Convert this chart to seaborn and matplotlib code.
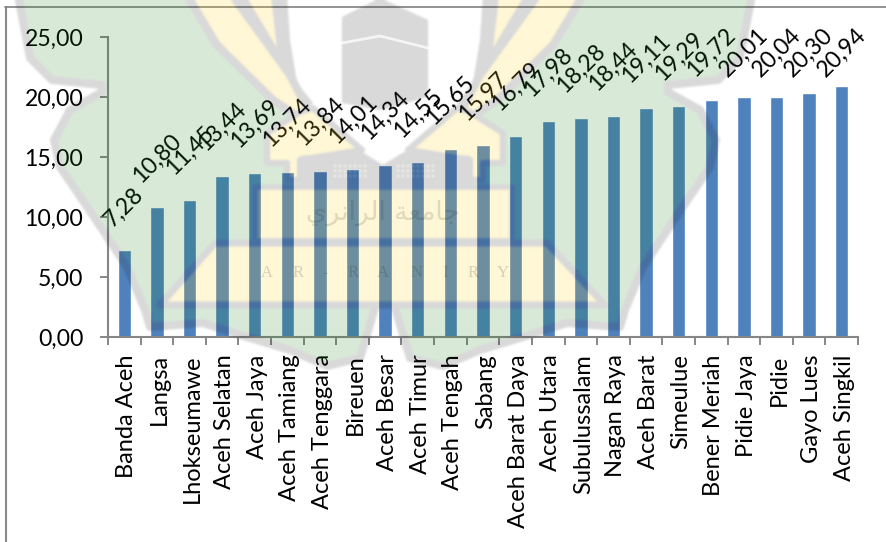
import numpy as np
import pandas as pd
import matplotlib
matplotlib.use("Agg")
import matplotlib.pyplot as plt
from matplotlib.backends.backend_agg import FigureCanvasAgg
from matplotlib.figure import Figure
from matplotlib.patches import Polygon
from matplotlib.transforms import ScaledTranslation
import seaborn as sns

# Poverty-style percentages per district, ascending
districts = ["Banda Aceh", "Langsa", "Lhokseumawe", "Aceh Selatan", "Aceh Jaya",
             "Aceh Tamiang", "Aceh Tenggara", "Bireuen", "Aceh Besar", "Aceh Timur",
             "Aceh Tengah", "Sabang", "Aceh Barat Daya", "Aceh Utara", "Subulussalam",
             "Nagan Raya", "Aceh Barat", "Simeulue", "Bener Meriah", "Pidie Jaya",
             "Pidie", "Gayo Lues", "Aceh Singkil"]
values = [7.28, 10.80, 11.45, 13.44, 13.69, 13.74, 13.84, 14.01, 14.34, 14.55,
          15.65, 15.97, 16.79, 17.98, 18.28, 18.44, 19.11, 19.29, 19.72, 20.01,
          20.04, 20.30, 20.94]
y_ticks = [0, 5, 10, 15, 20, 25]

W, H, DPI = 886, 542, 100
FONT = "Lato"
BAR = "#4F81BD"
AXIS = "#868686"

sns.set_theme(style="white")
plt.rcParams["font.family"] = [FONT, "DejaVu Sans"]


def comma(v):
    return f"{v:.2f}".replace(".", ",")


def soften(rgba):
    """Small binomial blur on premultiplied RGBA so the emblem's edges stay soft."""
    premult = np.pad(rgba, ((2, 2), (2, 2), (0, 0)), mode="edge")
    premult[..., :3] *= premult[..., 3:]
    for axis in (0, 1):
        premult = sum(w * np.roll(premult, s, axis=axis)
                      for s, w in zip(range(-2, 3), (1 / 16, 4 / 16, 6 / 16, 4 / 16, 1 / 16)))
    premult = premult[2:-2, 2:-2]
    alpha = np.maximum(premult[..., 3:], 1e-6)
    premult[..., :3] = np.clip(premult[..., :3] / alpha, 0, 1)
    return premult


def build_emblem():
    """Paint the university emblem opaquely on a transparent canvas (pixel coordinates)."""
    green, gold, grey = "#188218", "#FFD008", "#1F1F1F"
    stroke = 5.8
    fig = Figure(figsize=(W / DPI, H / DPI), dpi=DPI)
    fig.patch.set_alpha(0)
    canvas = FigureCanvasAgg(fig)
    ax = fig.add_axes([0, 0, 1, 1])
    ax.set_xlim(0, W)
    ax.set_ylim(H, 0)
    ax.axis("off")

    def shape(pts, face, lw=stroke, mirror=True):
        sets = [pts] + ([[(770 - x, y) for x, y in pts]] if mirror else [])
        for p in sets:
            ax.add_patch(Polygon(p, closed=True, facecolor=face,
                                 edgecolor=grey if lw else face, linewidth=lw or 0.1,
                                 joinstyle="round"))

    # wings
    shape([(18, -5), (30, 58), (52, 80), (102, 85), (102, 92), (70, 110), (54, 140),
           (60, 167), (94, 217), (127, 267), (145, 310), (150, 327), (203, 323),
           (247, 337), (290, 350), (327, 366), (360, 358), (375, 308), (375, 240),
           (300, 118), (273, 100), (217, 45), (187, -5)], green)
    # dark wedge between the ribbons and the shield
    shape([(232, -5), (287, -5), (290, 40), (297, 83), (313, 103), (307, 108), (290, 75)],
          grey, lw=0)
    # ribbons
    shape([(187, -5), (232, -5), (290, 75), (307, 108), (300, 118), (273, 100), (217, 45)], gold)
    shape([(243, -5), (273, -5), (280, 57)], gold, lw=3)
    # base blocks either side of the shield
    shape([(267, 147), (267, 133), (300, 112), (313, 108), (362, 150), (300, 160),
           (300, 180), (287, 180), (287, 163), (267, 163)], gold, lw=4.5)
    # central panel under the chevron
    shape([(300, 156), (362, 152), (383, 165), (404, 152), (470, 156), (470, 187), (300, 187)],
          grey, lw=0, mirror=False)
    px, py = np.meshgrid(np.r_[335:370:5, 398:438:5], np.arange(166, 181, 5))
    ax.scatter(px.ravel(), py.ravel(), s=2.5, marker="s", color="#E8D8A0", linewidths=0)
    # name plate and banner
    shape([(255, 187), (512, 187), (512, 241), (255, 241)], gold, lw=4, mirror=False)
    shape([(215, 243), (547, 243), (605, 305), (160, 305)], gold, lw=5, mirror=False)
    # Kaaba
    shape([(342, 17), (380, -2), (428, 20), (428, 97), (380, 110), (342, 103)], grey,
          lw=0, mirror=False)
    canvas.draw()
    return soften(np.asarray(canvas.buffer_rgba()).astype(float) / 255)


df = pd.DataFrame({"district": districts, "value": values})

fig = plt.figure(figsize=(W / DPI, H / DPI), dpi=DPI, facecolor="white")
ax = fig.add_axes([108 / W, 1 - 337 / H, 750 / W, 300 / H], facecolor="none")
sns.barplot(data=df, x="district", y="value", color=BAR, saturation=1, width=0.41, ax=ax)

ax.set_xlim(-0.5, len(districts) - 0.5)
ax.set_ylim(0, 25)
ax.set_xlabel("")
ax.set_ylabel("")
ax.set_yticks(y_ticks, [comma(v) for v in y_ticks], fontsize=16.6, color="black")
ax.set_xticks(range(len(districts)), districts, rotation=90, fontsize=17, color="black")
ax.set_xticks(np.arange(len(districts) + 1) - 0.5, minor=True)
ax.tick_params(axis="x", which="major", length=0, pad=12.5)
ax.tick_params(axis="x", which="minor", length=5.8, width=1.4, color=AXIS, bottom=True)
ax.tick_params(axis="y", length=5.8, width=1.4, color=AXIS, pad=12, left=True)
# Nudge the upright names so their stems sit under the bars
nudge = ScaledTranslation(2.5 / DPI, 0, fig.dpi_scale_trans)
for label in ax.get_xticklabels():
    label.set_transform(label.get_transform() + nudge)
for side in ("top", "right"):
    ax.spines[side].set_visible(False)
for side in ("left", "bottom"):
    ax.spines[side].set_color(AXIS)
    ax.spines[side].set_linewidth(1.5)

# Slanted value labels; the tallest ones stop short of the chart's upper edge
for i, v in enumerate(values):
    text = comma(v)
    ax.text(i, min(v + 1.2 + 0.58 * len(text), 23.75), text, rotation=45, ha="center",
            va="center", fontsize=16.6, color="black", clip_on=False)

# Outer frame of the chart area
fig.add_artist(plt.Line2D([5.5 / W, 5.5 / W], [0, 1 - 7 / H], color="#8A8A8A", lw=1.5))
fig.add_artist(plt.Line2D([5 / W, 1], [1 - 7 / H, 1 - 7 / H], color="#808080", lw=1.2))

# Translucent emblem laid over the whole page
overlay = fig.add_axes([0, 0, 1, 1], zorder=10)
emblem = build_emblem()
emblem[..., 3] *= 0.17
overlay.imshow(emblem, extent=(0, W, H, 0), aspect="auto", interpolation="bilinear")
overlay.plot([342, 380, 428], [43, 36, 48], color="white", lw=2, alpha=0.75)
overlay.set_xlim(0, W)
overlay.set_ylim(H, 0)
overlay.axis("off")
overlay.text(383, 213, "\uFEF1\uFEAE\uFEE7\uFE8D\uFEAE\uFEDF\uFE8D \uFE94\uFECC\uFEE3\uFE8E\uFE9F",
             ha="center", va="center", fontsize=19, color="#1F1F1F", alpha=0.14,
             family="DejaVu Sans")
for x, letter in zip([267, 298, 325, 353, 383, 417, 445, 473, 503], "AR-RANIRY"):
    overlay.text(x, 273, letter, ha="center", va="center", fontsize=12, color="#1F1F1F",
                 alpha=0.18, family="Liberation Serif")

fig.savefig("out.png", dpi=DPI)
